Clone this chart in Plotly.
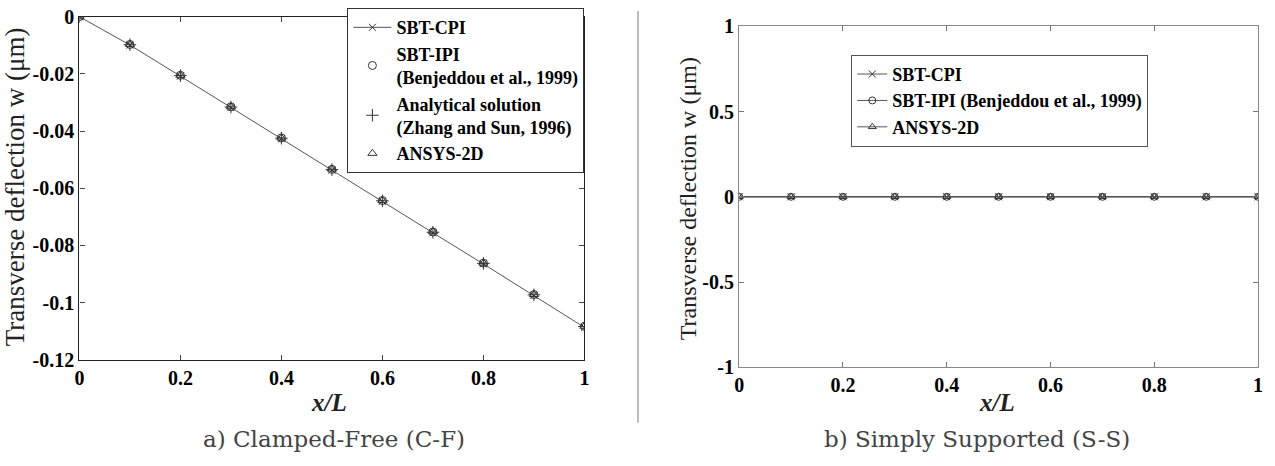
import plotly.graph_objects as go

# ---------------- data ----------------
x_over_L = [0.0, 0.1, 0.2, 0.3, 0.4, 0.5, 0.6, 0.7, 0.8, 0.9, 1.0]

# a) Clamped-Free
cf_sbt_cpi = [0.0, -0.0099, -0.0208, -0.0318, -0.0427, -0.0537, -0.0646, -0.0756, -0.0865, -0.0975, -0.1087]
cf_sbt_ipi = [0.0, -0.0097, -0.0205, -0.0315, -0.0424, -0.0534, -0.0643, -0.0753, -0.0862, -0.0972, -0.1083]
cf_analytical = [0.0, -0.0098, -0.0206, -0.0316, -0.0425, -0.0535, -0.0644, -0.0754, -0.0863, -0.0973, -0.1084]
cf_ansys = [0.0, -0.0097, -0.0205, -0.0315, -0.0424, -0.0533, -0.0643, -0.0752, -0.0862, -0.0972, -0.1083]

# b) Simply Supported
ss_sbt_cpi = [0.0, 0.0, 0.0, 0.0, 0.0, 0.0, 0.0, 0.0, 0.0, 0.0, 0.0]
ss_sbt_ipi = [0.0, 0.0, 0.0, 0.0, 0.0, 0.0, 0.0, 0.0, 0.0, 0.0, 0.0]
ss_ansys = [0.0, 0.0, 0.0, 0.0, 0.0, 0.0, 0.0, 0.0, 0.0, 0.0, 0.0]

x_ticks = [0, 0.2, 0.4, 0.6, 0.8, 1]
x_tick_labels = ["0", "0.2", "0.4", "0.6", "0.8", "1"]
cf_y_ticks = [0, -0.02, -0.04, -0.06, -0.08, -0.1, -0.12]
cf_y_tick_labels = ["0", "-0.02", "-0.04", "-0.06", "-0.08", "-0.1", "-0.12"]
ss_y_ticks = [1, 0.5, 0, -0.5, -1]
ss_y_tick_labels = ["1", "0.5", "0", "-0.5", "-1"]

y_title = "Transverse deflection w (μm)"
x_title = "<i>x/L</i>"
caption_a = "a) Clamped-Free (C-F)"
caption_b = "b) Simply Supported (S-S)"

# ---------------- figure ----------------
W, H = 1275, 466
SERIF = "Liberation Serif"
MK = "#333333"
LN = "#555555"

fig = go.Figure()

def px_x(p):
    return p / W

def px_y(p):
    return 1 - p / H

# left plot
fig.add_trace(go.Scatter(x=x_over_L, y=cf_sbt_cpi, mode="lines+markers", name="SBT-CPI",
                         line=dict(color=LN, width=1),
                         marker=dict(symbol="x-thin", size=7, line=dict(color=MK, width=1), color=MK),
                         xaxis="x", yaxis="y", legend="legend"))
fig.add_trace(go.Scatter(x=x_over_L, y=cf_sbt_ipi, mode="markers", name="SBT-IPI<br>(Benjeddou et al., 1999)",
                         marker=dict(symbol="circle-open", size=8, line=dict(color=MK, width=1), color=MK),
                         xaxis="x", yaxis="y", legend="legend"))
fig.add_trace(go.Scatter(x=x_over_L, y=cf_analytical, mode="markers", name="Analytical solution<br>(Zhang and Sun, 1996)",
                         marker=dict(symbol="cross-thin", size=9, line=dict(color=MK, width=1), color=MK),
                         xaxis="x", yaxis="y", legend="legend"))
fig.add_trace(go.Scatter(x=x_over_L, y=cf_ansys, mode="markers", name="ANSYS-2D",
                         marker=dict(symbol="triangle-up-open", size=8, line=dict(color=MK, width=1), color=MK),
                         xaxis="x", yaxis="y", legend="legend"))

# right plot
fig.add_trace(go.Scatter(x=x_over_L, y=ss_sbt_cpi, mode="lines+markers", name="SBT-CPI",
                         line=dict(color=LN, width=1),
                         marker=dict(symbol="x-thin", size=7, line=dict(color=MK, width=1), color=MK),
                         xaxis="x2", yaxis="y2", legend="legend2"))
fig.add_trace(go.Scatter(x=x_over_L, y=ss_sbt_ipi, mode="lines+markers", name="SBT-IPI (Benjeddou et al., 1999)",
                         line=dict(color=LN, width=1),
                         marker=dict(symbol="circle-open", size=7, line=dict(color=MK, width=1), color=MK),
                         xaxis="x2", yaxis="y2", legend="legend2"))
fig.add_trace(go.Scatter(x=x_over_L, y=ss_ansys, mode="lines+markers", name="ANSYS-2D",
                         line=dict(color=LN, width=1),
                         marker=dict(symbol="triangle-up-open", size=7, line=dict(color=MK, width=1), color=MK),
                         xaxis="x2", yaxis="y2", legend="legend2"))

tickfont = dict(family=SERIF, size=20, color="black", weight="bold")

axis_common = dict(showline=True, mirror="ticks", ticks="inside", ticklen=5, showgrid=False,
                   zeroline=False, tickfont=tickfont)

fig.update_layout(
    width=W, height=H,
    margin=dict(l=0, r=0, t=0, b=0),
    paper_bgcolor="white", plot_bgcolor="white",
    xaxis=dict(domain=[px_x(75), px_x(584)], range=[0, 1], tickvals=x_ticks, ticktext=x_tick_labels,
               anchor="y", linecolor="#222", linewidth=1.3, tickcolor="#444", **axis_common),
    yaxis=dict(domain=[px_y(366), px_y(6)], range=[-0.12, 0], tickvals=cf_y_ticks, ticktext=cf_y_tick_labels,
               anchor="x", linecolor="#222", linewidth=1.3, tickcolor="#444", **axis_common),
    xaxis2=dict(domain=[px_x(740), px_x(1263)], range=[0, 1], tickvals=x_ticks, ticktext=x_tick_labels,
                anchor="y2", linecolor="#888", linewidth=1.3, tickcolor="#777", **axis_common),
    yaxis2=dict(domain=[px_y(374), px_y(16)], range=[-1, 1], tickvals=ss_y_ticks, ticktext=ss_y_tick_labels,
                anchor="x2", linecolor="#888", linewidth=1.3, tickcolor="#777", **axis_common),
    legend=dict(x=px_x(584), xanchor="right", y=px_y(-3), yanchor="top",
                bgcolor="white", bordercolor="#333", borderwidth=1,
                font=dict(family=SERIF, size=18, color="black", weight="bold"),
                tracegroupgap=0, itemwidth=38),
    legend2=dict(x=px_x(853), xanchor="left", y=px_y(46), yanchor="top",
                 bgcolor="white", bordercolor="#555", borderwidth=1,
                 font=dict(family=SERIF, size=18, color="black", weight="bold"),
                 tracegroupgap=0, itemwidth=30),
    showlegend=True,
)

annotations = [
    dict(text=y_title, x=px_x(10), y=px_y(184), textangle=-90, font=dict(family=SERIF, size=27, color="#222")),
    dict(text=y_title, x=px_x(688), y=px_y(197), textangle=-90, font=dict(family=SERIF, size=24, color="#222")),
    dict(text=x_title, x=px_x(327), y=px_y(411), font=dict(family=SERIF, size=25, color="#222", weight="bold")),
    dict(text=x_title, x=px_x(1000), y=px_y(411), font=dict(family=SERIF, size=25, color="#222", weight="bold")),
    dict(text=caption_a, x=px_x(332), y=px_y(449), font=dict(family="DejaVu Serif", size=23, color="#444")),
    dict(text=caption_b, x=px_x(980), y=px_y(449), font=dict(family="DejaVu Serif", size=23, color="#444")),
]
for a in annotations:
    a.update(xref="paper", yref="paper", showarrow=False, xanchor="center", yanchor="middle")
fig.update_layout(annotations=annotations)

fig.add_shape(type="line", xref="paper", yref="paper", x0=px_x(638), x1=px_x(638), y0=px_y(432), y1=1,
              line=dict(color="#777", width=1))

fig.write_html("out.html")
